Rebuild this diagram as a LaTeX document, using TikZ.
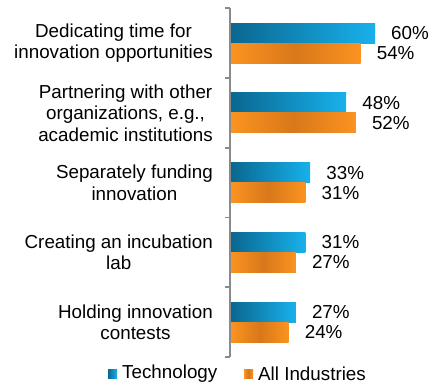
\documentclass[tikz,border=0pt]{standalone}
\usepackage{fontspec}
\setmainfont{Liberation Sans}
\usepackage{tikz}
\definecolor{techdark}{HTML}{0A6790}
\definecolor{techlight}{HTML}{18B1EC}
\definecolor{indlight}{HTML}{FB9321}
\definecolor{inddark}{HTML}{D8781A}
\definecolor{axisgray}{HTML}{8A8A8A}
\tikzstyle{techbar} = [left color=techdark, right color=techlight]
\tikzstyle{indbar} = [left color=indlight, right color=indlight, middle color=inddark]
\tikzstyle{category} = [anchor=east, align=center, inner sep=0pt, font=\fontsize{18.8}{21.5}\selectfont]
\tikzstyle{value} = [anchor=west, inner sep=0pt, font=\fontsize{18.8}{21.5}\selectfont]
\tikzstyle{axis} = [draw=axisgray, line width=1.8pt]

\begin{document}
\begin{tikzpicture}[x=1pt, y=-1pt]
	\useasboundingbox (0,0) rectangle (441,386);

	\node[category](cat1) at (213, 43){Dedicating time for\\innovation opportunities};
	\node[category](cat2) at (213, 112.8){Partnering with other\\organizations, e.g.,\\academic institutions};
	\node[category](cat3) at (213, 182.6){Separately funding\\innovation};
	\node[category](cat4) at (213, 252.4){Creating an incubation\\lab};
	\node[category](cat5) at (213, 322.2){Holding innovation\\contests};

	\shade[techbar] (231, 23) rectangle (375, 43);
	\shade[indbar] (231, 43) rectangle (360.6, 63);
	\node[value](tech1) at (391, 33){60\%};
	\node[value](ind1) at (376.6, 53){54\%};

	\shade[techbar] (231, 92.8) rectangle (346.2, 112.8);
	\shade[indbar] (231, 112.8) rectangle (355.8, 132.8);
	\node[value](tech2) at (362.2, 102.8){48\%};
	\node[value](ind2) at (371.8, 122.8){52\%};

	\shade[techbar] (231, 162.6) rectangle (310.2, 182.6);
	\shade[indbar] (231, 182.6) rectangle (305.4, 202.6);
	\node[value](tech3) at (326.2, 172.6){33\%};
	\node[value](ind3) at (321.4, 192.6){31\%};

	\shade[techbar] (231, 232.4) rectangle (305.4, 252.4);
	\shade[indbar] (231, 252.4) rectangle (295.8, 272.4);
	\node[value](tech4) at (321.4, 242.4){31\%};
	\node[value](ind4) at (311.8, 262.4){27\%};

	\shade[techbar] (231, 302.2) rectangle (295.8, 322.2);
	\shade[indbar] (231, 322.2) rectangle (288.6, 342.2);
	\node[value](tech5) at (311.8, 312.2){27\%};
	\node[value](ind5) at (304.6, 332.2){24\%};

	% axis with ticks
	\draw[axis] (230, 8) -- (230, 357);
	\draw[axis] (225, 8) -- (230, 8);
	\draw[axis] (225, 77.8) -- (230, 77.8);
	\draw[axis] (225, 147.6) -- (230, 147.6);
	\draw[axis] (225, 217.4) -- (230, 217.4);
	\draw[axis] (225, 287.2) -- (230, 287.2);
	\draw[axis] (225, 357) -- (230, 357);

	% legend
	\shade[techbar] (108, 369) rectangle (117, 378);
	\node[value](techkey) at (122, 373.5){Technology};
	\shade[indbar] (244, 369) rectangle (253, 378);
	\node[value](indkey) at (258, 373.5){All Industries};
\end{tikzpicture}
\end{document}
